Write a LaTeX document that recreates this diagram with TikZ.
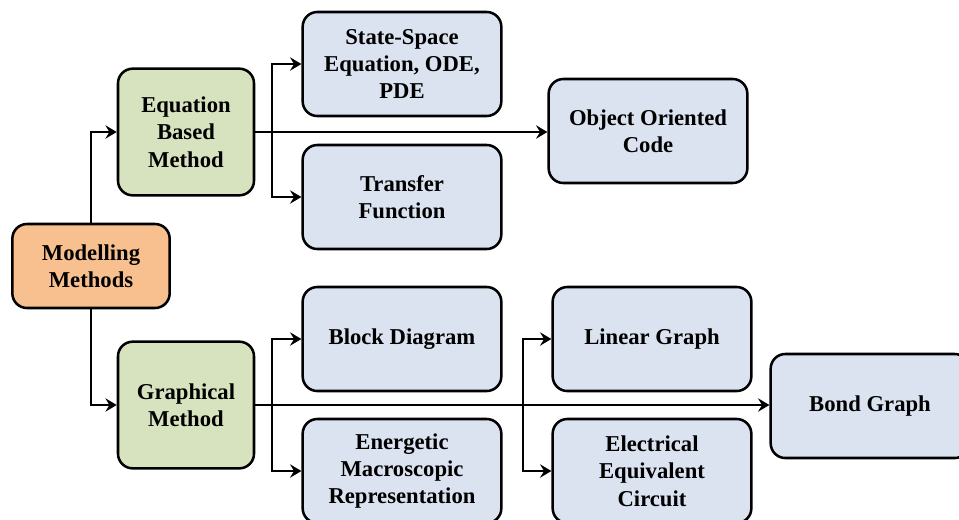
\documentclass[tikz,border=0pt]{standalone}
\usepackage{fontspec}
\setmainfont{Liberation Serif}
\usetikzlibrary{arrows.meta}
\definecolor{mmorange}{RGB}{248,192,142}
\definecolor{mmgreen}{RGB}{215,227,191}
\definecolor{mmblue}{RGB}{219,227,241}
\tikzset{
  box/.style={draw, line width=1.9pt, rounded corners=11pt, align=center, inner sep=0pt,
    font=\bfseries\fontsize{17}{20.5}\selectfont, fill=mmblue,
    minimum width=149pt, minimum height=78pt},
  rootbox/.style={box, fill=mmorange, minimum width=118pt, minimum height=63pt},
  methodbox/.style={box, fill=mmgreen, minimum width=102pt, minimum height=95pt},
  link/.style={line width=1.4pt, -{Stealth[length=8.5pt,width=10pt,inset=3pt]}},
  branch/.style={line width=1.4pt}
}

\begin{document}
\begin{tikzpicture}[x=0.75pt,y=-0.75pt]
\useasboundingbox (0,0) rectangle (959,519);
\node[rootbox] (mm) at (91,266) {Modelling\\Methods};
\node[methodbox] (eq) at (186,132) {Equation\\Based\\Method};
\node[methodbox] (gr) at (186,405) {Graphical\\Method};
\node[box] (ss) at (402,64) {State-Space\\Equation, ODE,\\PDE};
\node[box] (tf) at (402,197) {Transfer\\Function};
\node[box] (oo) at (648,131) {Object Oriented\\Code};
\node[box] (bd) at (402,339) {Block Diagram};
\node[box] (emr) at (402,471) {Energetic\\Macroscopic\\Representation};
\node[box] (lg) at (652,339) {Linear Graph};
\node[box] (eec) at (652,471) {Electrical\\Equivalent\\Circuit};
\node[box] (bg) at (870,406) {Bond Graph};

\draw[link] (mm.north) |- (eq.west);
\draw[link] (mm.south) |- (gr.west);
\draw[link] (eq.east) -- (oo.west |- eq.east);
\draw[link] (gr.east) -- (bg.west |- gr.east);

\coordinate (eqfork) at (272,132);
\coordinate (grfork) at (272,405);
\coordinate (bdfork) at (523,405);
\draw[link] (eqfork) |- (ss.west);
\draw[link] (eqfork) |- (tf.west);
\draw[link] (grfork) |- (bd.west);
\draw[link] (grfork) |- (emr.west);
\draw[link] (bdfork) |- (lg.west);
\draw[link] (bdfork) |- (eec.west);
\end{tikzpicture}
\end{document}
